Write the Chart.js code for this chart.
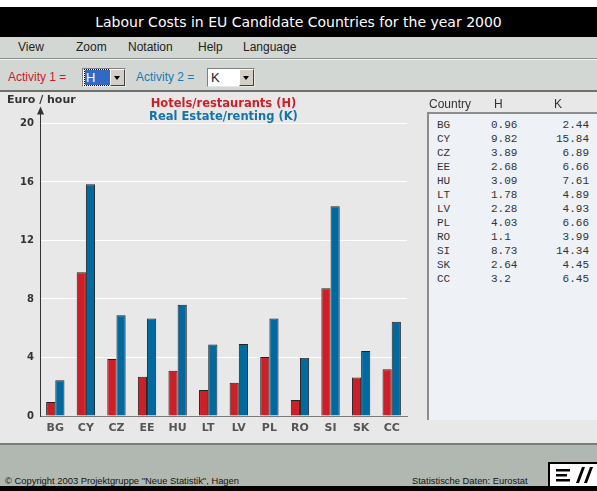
<!DOCTYPE html>
<html>
<head>
<meta charset="utf-8">
<script src="https://cdn.jsdelivr.net/npm/chart.js@4/dist/chart.umd.min.js"></script>
<style>
  html, body { margin:0; padding:0; }
  body { width:597px; height:491px; overflow:hidden; background:#fff; position:relative; font-family:"Liberation Sans", Arial, sans-serif; }
  .abs { position:absolute; }
  #titlebar { left:0; top:7px; width:597px; height:30px; background:#000; color:#fff; text-align:center; font:14px "DejaVu Sans", Verdana, sans-serif; line-height:30px; }
  #menubar { left:0; top:37px; width:597px; height:21px; background:#d3d7d3; border-bottom:1px solid #8a8e8a; }
  #menusep { left:0; top:59px; width:597px; height:1px; background:#f4f6f4; }
  .menu { top:40px; font-size:12px; color:#222; }
  #toolbar { left:0; top:60px; width:597px; height:30px; background:#d3d7d3; border-bottom:2px solid #6e716e; }
  .act { top:70px; font-size:12px; }
  .dd { top:68px; height:19px; background:#fff; border-top:1px solid #808080; border-left:1px solid #808080; border-right:1px solid #e8e8e8; border-bottom:1px solid #e8e8e8; box-sizing:border-box; }
  .dd .txt { position:absolute; left:2px; top:1px; height:15px; font-size:13px; line-height:15px; padding-left:1px; }
  .dd .btn { position:absolute; right:0; top:0; width:15px; height:17px; background:#d4d0c8; border-left:1px solid #fff; border-top:1px solid #fff; border-right:1px solid #404040; border-bottom:1px solid #404040; box-sizing:border-box; }
  .dd .btn:after { content:""; position:absolute; left:3px; top:6px; border-left:3.5px solid transparent; border-right:3.5px solid transparent; border-top:4px solid #000; }
  #panel { left:0; top:92px; width:597px; height:351px; background:#e8e8e8; }
  #chartwrap { left:0; top:92px; width:418px; height:350px; }
  #yunit { left:7px; top:93px; font:bold 11px "DejaVu Sans", Verdana, sans-serif; color:#333; }
  .th { top:97px; font-size:12px; color:#333; }
  #list { left:427px; top:112px; width:175px; height:308px; background:#eef1f5; border-top:2px solid #8c8c8c; border-left:2px solid #8c8c8c; box-sizing:border-box; }
  .row { position:absolute; font:11px "Liberation Mono", "Courier New", monospace; color:#333; height:14px; line-height:14px; }
  #footer { left:0; top:443px; width:597px; height:43px; background:#b1b8b1; border-top:2px solid #7a7e7a; box-sizing:border-box; }
  #bottombar { left:0; top:486px; width:597px; height:5px; background:#000; }
  .foot { top:475px; font-size:9.4px; color:#111; }
</style>
</head>
<body>
<div id="titlebar" class="abs">Labour Costs in EU Candidate Countries for the year 2000</div>
<div id="menubar" class="abs"></div>
<div id="menusep" class="abs"></div>
<div class="abs menu" style="left:18px">View</div>
<div class="abs menu" style="left:76px">Zoom</div>
<div class="abs menu" style="left:128px">Notation</div>
<div class="abs menu" style="left:198px">Help</div>
<div class="abs menu" style="left:243px">Language</div>
<div id="toolbar" class="abs"></div>
<div class="abs act" style="left:8px;color:#c8202a">Activity 1 =</div>
<div class="abs dd" style="left:82px;width:44px"><div class="txt" style="width:24px;background:#316ac5;color:#fff;outline:1px dotted #000;">H</div><div class="btn"></div></div>
<div class="abs act" style="left:136px;color:#1a7ab0">Activity 2 =</div>
<div class="abs dd" style="left:207px;width:48px"><div class="txt" style="color:#222">K</div><div class="btn"></div></div>
<div id="panel" class="abs"></div>
<div id="chartwrap" class="abs"><canvas id="c" width="418" height="350"></canvas></div>
<div id="yunit" class="abs">Euro / hour</div>
<div class="abs th" style="left:429px">Country</div>
<div class="abs th" style="left:494px">H</div>
<div class="abs th" style="left:554px">K</div>
<div id="list" class="abs"></div>
<div id="footer" class="abs"></div>
<div id="bottombar" class="abs"></div>
<div class="abs foot" style="left:5px">&copy; Copyright 2003 Projektgruppe "Neue Statistik", Hagen</div>
<div class="abs foot" style="left:412px">Statistische Daten: Eurostat</div>
<svg class="abs" style="left:548px;top:462px" width="49" height="24" viewBox="0 0 49 24">
  <rect x="0" y="0" width="49" height="24" fill="#000"/>
  <rect x="2" y="2" width="47" height="22" fill="#fff"/>
  <rect x="8" y="7" width="14" height="2.5" fill="#000"/>
  <rect x="8" y="12" width="11" height="2.5" fill="#000"/>
  <rect x="8" y="17" width="14" height="2.5" fill="#000"/>
  <polygon points="28,21 31,21 37,5 34,5" fill="#000"/>
  <polygon points="36,21 39,21 45,5 42,5" fill="#000"/>
</svg>
<script>
const countries = ["BG","CY","CZ","EE","HU","LT","LV","PL","RO","SI","SK","CC"];
const hotelsH = [0.96, 9.82, 3.89, 2.68, 3.09, 1.78, 2.28, 4.03, 1.1, 8.73, 2.64, 3.2];
const realEstateK = [2.44, 15.84, 6.89, 6.66, 7.61, 4.89, 4.93, 6.66, 3.99, 14.34, 4.45, 6.45];
const hLabels = ["0.96","9.82","3.89","2.68","3.09","1.78","2.28","4.03","1.1","8.73","2.64","3.2"];
const kLabels = ["2.44","15.84","6.89","6.66","7.61","4.89","4.93","6.66","3.99","14.34","4.45","6.45"];
const yMin = 0, yMax = 20, yStep = 4;

// table list
const list = document.getElementById('list');
countries.forEach((c, i) => {
  const top = 4 + i * 14;
  const a = document.createElement('div'); a.className = 'row'; a.style.left = '8px'; a.style.top = top + 'px'; a.textContent = c; list.appendChild(a);
  const b = document.createElement('div'); b.className = 'row'; b.style.left = '62px'; b.style.top = top + 'px'; b.textContent = hLabels[i]; list.appendChild(b);
  const k = document.createElement('div'); k.className = 'row'; k.style.right = '13px'; k.style.top = top + 'px'; k.style.textAlign = 'right'; k.textContent = kLabels[i]; list.appendChild(k);
});

const arrowAxis = {
  id: 'arrowAxis',
  afterDraw(chart) {
    const {ctx, chartArea} = chart;
    const x = Math.round(chartArea.left) + 0.5;
    ctx.save();
    ctx.strokeStyle = '#333'; ctx.fillStyle = '#333'; ctx.lineWidth = 1;
    ctx.beginPath(); ctx.moveTo(x, chartArea.bottom + 1); ctx.lineTo(x, chartArea.top - 11); ctx.stroke();
    ctx.beginPath(); ctx.moveTo(x, chartArea.top - 17); ctx.lineTo(x - 3.5, chartArea.top - 9); ctx.lineTo(x + 3.5, chartArea.top - 9); ctx.closePath(); ctx.fill();
    ctx.restore();
  }
};

new Chart(document.getElementById('c'), {
  type: 'bar',
  data: {
    labels: countries,
    datasets: [
      { label: 'Hotels/restaurants (H)', data: hotelsH, backgroundColor: '#cc1f27', borderColor: '#222', borderWidth: 1, borderSkipped: 'bottom' },
      { label: 'Real Estate/renting (K)', data: realEstateK, backgroundColor: '#0069a0', borderColor: '#222', borderWidth: 1, borderSkipped: 'bottom' }
    ]
  },
  options: {
    responsive: false,
    animation: false,
    devicePixelRatio: 1,
    layout: { padding: { left: 0, right: 11, top: 0, bottom: 0 } },
    datasets: { bar: { categoryPercentage: 0.6, barPercentage: 1.0 } },
    plugins: {
      legend: { display: false },
      tooltip: { enabled: false },
      title: { display: true, text: 'Hotels/restaurants (H)', color: '#cc1f27', fullSize: false,
               font: { family: 'DejaVu Sans', size: 11.5, weight: 'bold', lineHeight: 1.15 }, padding: { top: 5, bottom: 0 } },
      subtitle: { display: true, text: 'Real Estate/renting (K)', color: '#1473a8', fullSize: false,
               font: { family: 'DejaVu Sans', size: 11.5, weight: 'bold', lineHeight: 1.15 }, padding: { top: 0, bottom: 0 } }
    },
    scales: {
      x: {
        grid: { display: false, drawTicks: false },
        border: { display: true, color: '#7a7a7a', width: 1 },
        ticks: { color: '#555', padding: 6, font: { family: 'DejaVu Sans', size: 11, weight: 'bold' } },
        afterFit(s) { s.height = 26; }
      },
      y: {
        min: yMin, max: yMax,
        border: { display: false },
        grid: { drawTicks: false, color: (ctx) => ctx.tick && ctx.tick.value === 0 ? 'rgba(0,0,0,0)' : '#ffffff', lineWidth: 1 },
        ticks: { stepSize: yStep, color: '#333', padding: 6, font: { family: 'DejaVu Sans', size: 10, weight: 'bold' } },
        afterFit(s) { s.width = 40; }
      }
    }
  },
  plugins: [arrowAxis]
});
</script>
</body>
</html>
